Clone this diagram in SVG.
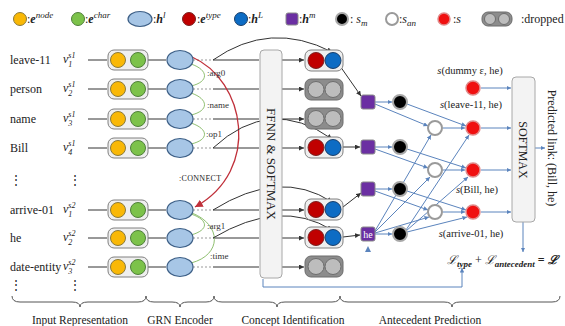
<svg xmlns="http://www.w3.org/2000/svg" width="565" height="326" viewBox="0 0 565 326">
<defs>
<style>
text{font-family:"Liberation Serif","Times New Roman",serif;fill:#222}
.tok{font-size:12px}
.lg{font-size:12px}
.it{font-style:italic}
.bi{font-style:italic;font-weight:bold}
.rel{font-size:9px;fill:#333}
.yel{fill:#f9b806;stroke:#8a7a3a;stroke-width:1}
.grn{fill:#7cc24a;stroke:#4f7f3a;stroke-width:1}
.ell{fill:#a7c6e6;stroke:#3d5f86;stroke-width:1.2}
.dred{fill:#c00000;stroke:#7a2020;stroke-width:1}
.blu{fill:#0d6cc4;stroke:#1a3f6a;stroke-width:1}
.pur{fill:#6b2fa2;stroke:#8a8a8a;stroke-width:1}
.blk{fill:#000;stroke:#a8a8a8;stroke-width:2}
.wht{fill:#fff;stroke:#9a9a9a;stroke-width:2}
.red{fill:#f01010;stroke:#e08a8a;stroke-width:1.5}
.tbox{fill:#efefef;stroke:#808080;stroke-width:1}
.gbox{fill:#8c8c8c;stroke:#6d6d6d;stroke-width:1}
.gc{fill:#bdbdbd;stroke:#6d6d6d;stroke-width:1}
.big{fill:#f3f3f3;stroke:#a8a8a8;stroke-width:1}
.ln{fill:none;stroke:#333;stroke-width:1}
.dot{fill:none;stroke:#999;stroke-width:1;stroke-dasharray:2 2}
.garc{fill:none;stroke:#8fbf70;stroke-width:1}
.bl{fill:none;stroke:#5b84bd;stroke-width:1}
.brace{fill:none;stroke:#555;stroke-width:1}
</style>
<marker id="ar" viewBox="0 0 6 6" refX="6" refY="3" markerWidth="5" markerHeight="5" orient="auto"><path d="M0,0 L6,3 L0,6 z" fill="#333"/></marker>
<marker id="ab" viewBox="0 0 6 6" refX="6" refY="3" markerWidth="4.5" markerHeight="4.5" orient="auto"><path d="M0,0 L6,3 L0,6 z" fill="#5b84bd"/></marker>
<marker id="arr" viewBox="0 0 6 6" refX="6" refY="3" markerWidth="6" markerHeight="6" orient="auto"><path d="M0,0 L6,3 L0,6 z" fill="#c0303a"/></marker>
</defs>
<rect width="565" height="326" fill="#fff"/>

<!-- Legend -->
<g id="legend">
<circle class="yel" cx="20" cy="19" r="6.5"/>
<text class="lg" x="27" y="23">:<tspan class="bi">e</tspan><tspan class="it" font-size="9" dy="-5">node</tspan></text>
<circle class="grn" cx="78" cy="19" r="6.5"/>
<text class="lg" x="85" y="23">:<tspan class="bi">e</tspan><tspan class="it" font-size="9" dy="-5">char</tspan></text>
<ellipse class="ell" cx="140" cy="19" rx="12" ry="7.5"/>
<text class="lg" x="153" y="23">:<tspan class="bi">h</tspan><tspan class="it" font-size="9" dy="-5">l</tspan></text>
<circle class="dred" cx="189" cy="19" r="6.5"/>
<text class="lg" x="197" y="23">:<tspan class="bi">e</tspan><tspan class="it" font-size="9" dy="-5">type</tspan></text>
<circle class="blu" cx="241" cy="19" r="6.5"/>
<text class="lg" x="248" y="23">:<tspan class="bi">h</tspan><tspan class="it" font-size="9" dy="-5">L</tspan></text>
<rect class="pur" x="286" y="13" width="12" height="12" rx="2"/>
<text class="lg" x="299" y="23">:<tspan class="bi">h</tspan><tspan class="it" font-size="9" dy="-5">m</tspan></text>
<circle class="blk" cx="342" cy="19" r="6"/>
<text class="lg" x="350" y="23">: <tspan class="it">s</tspan><tspan class="it" font-size="9" dy="3">m</tspan></text>
<circle class="wht" cx="392" cy="19" r="6"/>
<text class="lg" x="399" y="23">:<tspan class="it">s</tspan><tspan class="it" font-size="9" dy="3">an</tspan></text>
<circle class="red" cx="444" cy="19" r="6"/>
<text class="lg" x="453" y="23">:<tspan class="it">s</tspan></text>
<rect class="gbox" x="482" y="12" width="30" height="14" rx="6"/>
<circle class="gc" cx="490" cy="19" r="5.5"/>
<circle class="gc" cx="504" cy="19" r="5.5"/>
<text class="lg" x="521" y="23">:dropped</text>
</g>

<!-- Connectors -->
<g id="connectors">
<!-- input rows -->
<path class="ln" marker-end="url(#ar)" d="M88,60 H107 M148,60 H166 M213,60 H259 M282,60 H304"/>
<path class="ln" marker-end="url(#ar)" d="M88,89 H107 M148,89 H166 M213,89 H259 M282,89 H304"/>
<path class="ln" marker-end="url(#ar)" d="M88,119 H107 M148,119 H166 M213,119 H259 M282,119 H304"/>
<path class="ln" marker-end="url(#ar)" d="M88,148 H107 M148,148 H166 M213,148 H259 M282,148 H304"/>
<path class="ln" marker-end="url(#ar)" d="M88,210 H107 M148,210 H166 M213,210 H259 M282,210 H304"/>
<path class="ln" marker-end="url(#ar)" d="M88,238 H107 M148,238 H166 M213,238 H259 M282,238 H304"/>
<path class="ln" marker-end="url(#ar)" d="M88,267 H107 M148,267 H166 M213,267 H259 M282,267 H304"/>
<path class="dot" d="M193,60 H213 M193,89 H213 M193,119 H213 M193,148 H213 M193,210 H213 M193,238 H213 M193,267 H213"/>
<!-- relation arcs -->
<path class="garc" d="M191,64 C209,70 209,82 191,86"/>
<path class="garc" d="M191,93 C209,99 209,111 191,115"/>
<path class="garc" d="M191,123 C209,129 209,140 191,144"/>
<path class="garc" d="M191,214 C209,220 209,230 191,235"/>
<path class="garc" d="M192,213 C222,225 222,255 191,263"/>
<!-- CONNECT -->
<path fill="none" stroke="#c0303a" stroke-width="1.3" marker-end="url(#arr)" d="M192,57 C245,80 262,170 195,207"/>
<!-- skip curves -->
<path class="ln" marker-end="url(#ar)" d="M213,60 Q270,20 332,52"/>
<path class="ln" marker-end="url(#ar)" d="M213,148 Q270,95 332,139"/>
<path class="ln" marker-end="url(#ar)" d="M213,210 Q280,168 332,202"/>
<path class="ln" marker-end="url(#ar)" d="M213,238 Q280,198 332,230"/>
<!-- concept to mention -->
<path class="ln" marker-end="url(#ar)" d="M340,66 L361,96"/>
<path class="ln" marker-end="url(#ar)" d="M343,147 H360"/>
<path class="ln" marker-end="url(#ar)" d="M343,207 L361,193"/>
<path class="ln" marker-end="url(#ar)" d="M343,237 L360,235"/>
<!-- antecedent network -->
<g class="bl" marker-end="url(#ab)">
<path d="M375,102 H392"/>
<path d="M375,104 L428,126"/>
<path d="M407,104 L466,126"/>
<path d="M375,147 H392"/>
<path d="M375,149 L428,168"/>
<path d="M407,149 L466,168"/>
<path d="M375,189 H392"/>
<path d="M375,191 L428,210"/>
<path d="M407,191 L466,210"/>
<path d="M375,234 H392"/>
<path d="M375,231 L431,135"/>
<path d="M375,232 L430,177"/>
<path d="M375,233 L429,217"/>
<path d="M406,230 L469,135"/>
<path d="M406,231 L468,177"/>
<path d="M407,232 L467,217"/>
<path d="M443,128 H465"/>
<path d="M443,170 H465"/>
<path d="M443,212 H465"/>
<path d="M481,88 H511"/>
<path d="M481,128 H511"/>
<path d="M481,170 H511"/>
<path d="M481,212 H511"/>
<path d="M535,148 H545"/>
<path d="M523,222 V252"/>
<path d="M263,279 V287 H462 V268"/>
</g>
<path d="M368,246 L371,252 L365,252 z" fill="#5b84bd"/>
</g>

<!-- Input representation -->
<g id="input-representation">
<text class="tok" x="10" y="64">leave-11</text>
<text class="tok" x="10" y="93">person</text>
<text class="tok" x="10" y="123">name</text>
<text class="tok" x="10" y="152">Bill</text>
<text class="tok" x="10" y="214">arrive-01</text>
<text class="tok" x="10" y="242">he</text>
<text class="tok" x="10" y="271">date-entity</text>
<text class="tok" x="10" y="184">⋮</text>
<text class="tok" x="10" y="289">⋮</text>
<text class="tok" x="69" y="184">⋮</text>
<text class="tok" x="69" y="289">⋮</text>
<text class="tok it" x="63" y="63">ν<tspan font-size="8" dy="4">1</tspan><tspan font-size="8" dx="-4" dy="-9">s1</tspan></text>
<text class="tok it" x="63" y="92">ν<tspan font-size="8" dy="4">2</tspan><tspan font-size="8" dx="-4" dy="-9">s1</tspan></text>
<text class="tok it" x="63" y="122">ν<tspan font-size="8" dy="4">3</tspan><tspan font-size="8" dx="-4" dy="-9">s1</tspan></text>
<text class="tok it" x="63" y="151">ν<tspan font-size="8" dy="4">4</tspan><tspan font-size="8" dx="-4" dy="-9">s1</tspan></text>
<text class="tok it" x="63" y="213">ν<tspan font-size="8" dy="4">1</tspan><tspan font-size="8" dx="-4" dy="-9">s2</tspan></text>
<text class="tok it" x="63" y="241">ν<tspan font-size="8" dy="4">2</tspan><tspan font-size="8" dx="-4" dy="-9">s2</tspan></text>
<text class="tok it" x="63" y="270">ν<tspan font-size="8" dy="4">3</tspan><tspan font-size="8" dx="-4" dy="-9">s2</tspan></text>
<g id="emb-rows">
<rect class="tbox" x="108" y="50" width="40" height="20" rx="6"/><circle class="yel" cx="118" cy="60" r="7.5"/><circle class="grn" cx="138" cy="60" r="7.5"/>
<rect class="tbox" x="108" y="79" width="40" height="20" rx="6"/><circle class="yel" cx="118" cy="89" r="7.5"/><circle class="grn" cx="138" cy="89" r="7.5"/>
<rect class="tbox" x="108" y="109" width="40" height="20" rx="6"/><circle class="yel" cx="118" cy="119" r="7.5"/><circle class="grn" cx="138" cy="119" r="7.5"/>
<rect class="tbox" x="108" y="138" width="40" height="20" rx="6"/><circle class="yel" cx="118" cy="148" r="7.5"/><circle class="grn" cx="138" cy="148" r="7.5"/>
<rect class="tbox" x="108" y="200" width="40" height="20" rx="6"/><circle class="yel" cx="118" cy="210" r="7.5"/><circle class="grn" cx="138" cy="210" r="7.5"/>
<rect class="tbox" x="108" y="228" width="40" height="20" rx="6"/><circle class="yel" cx="118" cy="238" r="7.5"/><circle class="grn" cx="138" cy="238" r="7.5"/>
<rect class="tbox" x="108" y="257" width="40" height="20" rx="6"/><circle class="yel" cx="118" cy="267" r="7.5"/><circle class="grn" cx="138" cy="267" r="7.5"/>
</g>
</g>

<!-- GRN encoder -->
<g id="grn-encoder">
<ellipse class="ell" cx="180" cy="60" rx="13" ry="9.5"/>
<ellipse class="ell" cx="180" cy="89" rx="13" ry="9.5"/>
<ellipse class="ell" cx="180" cy="119" rx="13" ry="9.5"/>
<ellipse class="ell" cx="180" cy="148" rx="13" ry="9.5"/>
<ellipse class="ell" cx="180" cy="210" rx="13" ry="9.5"/>
<ellipse class="ell" cx="180" cy="238" rx="13" ry="9.5"/>
<ellipse class="ell" cx="180" cy="267" rx="13" ry="9.5"/>
<text class="rel" x="207" y="76">:arg0</text>
<text class="rel" x="207" y="108">:name</text>
<text class="rel" x="206" y="137">:op1</text>
<text class="rel" x="207" y="229">:arg1</text>
<text class="rel" x="210" y="259">:time</text>
<text x="179" y="181" font-size="8" fill="#b02030" letter-spacing="0.3">:CONNECT</text>
</g>

<!-- FFNN -->
<g id="ffnn">
<rect class="big" x="260" y="50" width="22" height="228" rx="4"/>
<text transform="translate(267,164) rotate(90)" text-anchor="middle" font-size="13" textLength="112" lengthAdjust="spacing">FFNN &amp; SOFTMAX</text>
</g>

<!-- Concept identification -->
<g id="concept-identification">
<rect class="tbox" x="305" y="50" width="38" height="21" rx="6"/><circle class="dred" cx="316" cy="60.5" r="8"/><circle class="blu" cx="333" cy="60.5" r="8"/>
<rect class="gbox" x="305" y="79" width="38" height="21" rx="6"/><circle class="gc" cx="316" cy="89.5" r="8"/><circle class="gc" cx="333" cy="89.5" r="8"/>
<rect class="gbox" x="305" y="108" width="38" height="21" rx="6"/><circle class="gc" cx="316" cy="118.5" r="8"/><circle class="gc" cx="333" cy="118.5" r="8"/>
<rect class="tbox" x="305" y="137" width="38" height="21" rx="6"/><circle class="dred" cx="316" cy="147.5" r="8"/><circle class="blu" cx="333" cy="147.5" r="8"/>
<rect class="tbox" x="305" y="199" width="38" height="21" rx="6"/><circle class="dred" cx="316" cy="209.5" r="8"/><circle class="blu" cx="333" cy="209.5" r="8"/>
<rect class="tbox" x="305" y="227" width="38" height="21" rx="6"/><circle class="dred" cx="316" cy="237.5" r="8"/><circle class="blu" cx="333" cy="237.5" r="8"/>
<rect class="gbox" x="305" y="256" width="38" height="21" rx="6"/><circle class="gc" cx="316" cy="266.5" r="8"/><circle class="gc" cx="333" cy="266.5" r="8"/>
</g>

<!-- Antecedent prediction -->
<g id="antecedent-prediction">
<rect class="pur" x="361" y="95" width="14" height="14" rx="2"/>
<rect class="pur" x="361" y="140" width="14" height="14" rx="2"/>
<rect class="pur" x="361" y="182" width="14" height="14" rx="2"/>
<rect class="pur" x="361" y="227" width="14" height="14" rx="2"/>
<text x="368" y="238" text-anchor="middle" font-size="10" fill="#fff" style="fill:#fff">he</text>
<circle class="blk" cx="400" cy="102" r="7"/>
<circle class="blk" cx="400" cy="147" r="7"/>
<circle class="blk" cx="400" cy="189" r="7"/>
<circle class="blk" cx="400" cy="234" r="7"/>
<circle class="wht" cx="435" cy="128" r="7"/>
<circle class="wht" cx="435" cy="170" r="7"/>
<circle class="wht" cx="435" cy="212" r="7"/>
<circle class="red" cx="473" cy="88" r="7"/>
<circle class="red" cx="473" cy="128" r="7"/>
<circle class="red" cx="473" cy="170" r="7"/>
<circle class="red" cx="473" cy="212" r="7"/>
<text x="470" y="74" text-anchor="middle" font-size="10.5"><tspan class="it">s</tspan>(dummy ε, he)</text>
<text x="471" y="108" text-anchor="middle" font-size="10.5"><tspan class="it">s</tspan>(leave-11, he)</text>
<text x="477" y="193" text-anchor="middle" font-size="10.5"><tspan class="it">s</tspan>(Bill, he)</text>
<text x="471" y="237" text-anchor="middle" font-size="10.5"><tspan class="it">s</tspan>(arrive-01, he)</text>
</g>

<g id="softmax">
<rect class="big" x="512" y="77" width="23" height="145" rx="4"/>
<text transform="translate(519,150) rotate(90)" text-anchor="middle" font-size="12">SOFTMAX</text>
</g>
<g id="prediction">
<text transform="translate(548,148) rotate(90)" text-anchor="middle" font-size="12">Predicted link:  (Bill, he)</text>
</g>
<g id="loss">
<text x="447" y="264" font-size="12"><tspan class="it" style="font-family:'DejaVu Serif',serif">ℒ</tspan><tspan class="bi" font-size="9" dy="3">type</tspan><tspan dy="-3"> + </tspan><tspan class="it" style="font-family:'DejaVu Serif',serif">ℒ</tspan><tspan class="bi" font-size="9" dy="3">antecedent</tspan><tspan dy="-3" font-weight="bold"> = </tspan><tspan class="bi" style="font-family:'DejaVu Serif',serif">ℒ</tspan></text>
</g>

<!-- Stage braces -->
<g id="stages">
<path class="brace" d="M12,296 Q12,302 20,302 H72 Q80,302 80,307 Q80,302 88,302 H138 Q146,302 146,296"/>
<path class="brace" d="M146,296 Q146,302 154,302 H172 Q180,302 180,307 Q180,302 188,302 H206 Q214,302 214,296"/>
<path class="brace" d="M214,296 Q214,302 222,302 H269 Q277,302 277,307 Q277,302 285,302 H332 Q340,302 340,296"/>
<path class="brace" d="M340,296 Q340,302 348,302 H444 Q452,302 452,307 Q452,302 460,302 H552 Q560,302 560,296"/>
<text x="80" y="324" text-anchor="middle" font-size="11.5">Input Representation</text>
<text x="180" y="324" text-anchor="middle" font-size="11.5">GRN Encoder</text>
<text x="293" y="324" text-anchor="middle" font-size="11.5">Concept Identification</text>
<text x="430" y="324" text-anchor="middle" font-size="11.5">Antecedent Prediction</text>
</g>
</svg>
